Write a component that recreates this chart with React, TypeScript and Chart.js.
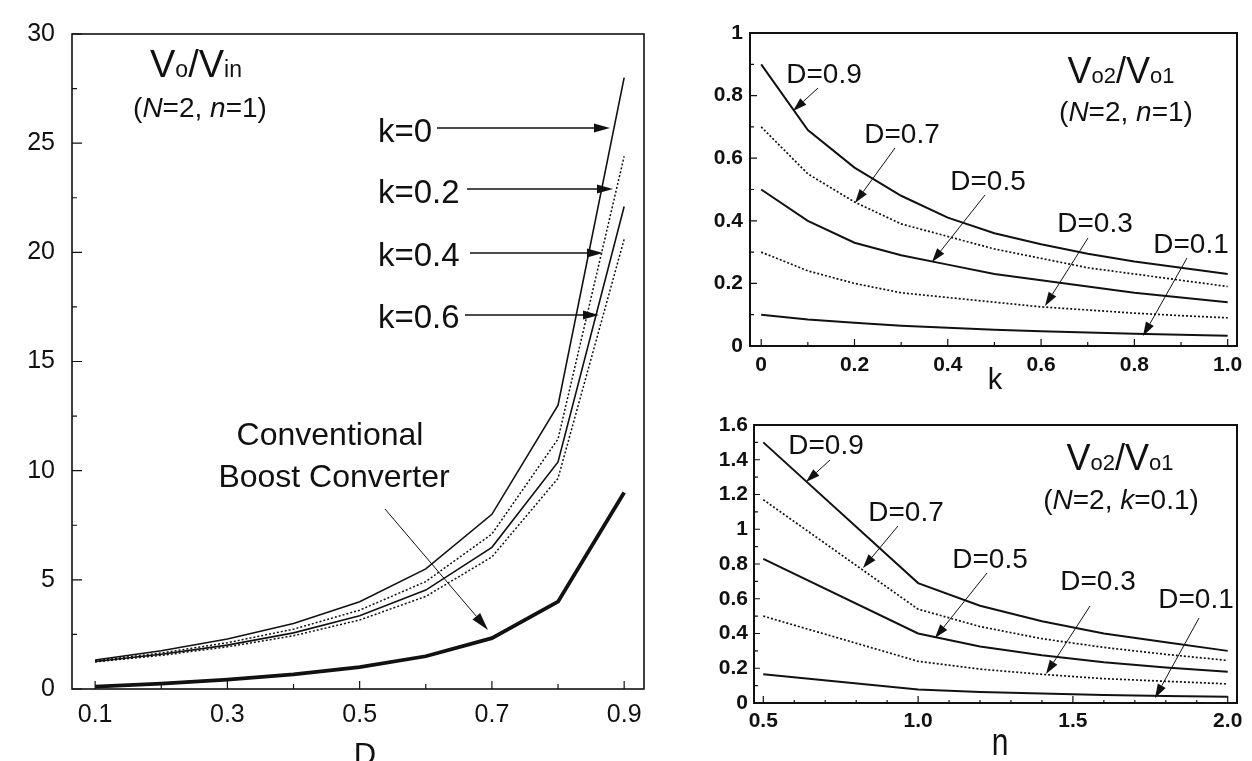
import React, { useEffect, useRef } from "react";
import { Chart, registerables } from "chart.js";

Chart.register(...registerables);

const FONT = '"Liberation Sans", Arial, Helvetica, sans-serif';
const INK = "#111111";

// ---------- Left panel: Vo/Vin versus D (N=2, n=1) ----------
const dutyD = [0.1, 0.2, 0.3, 0.4, 0.5, 0.6, 0.7, 0.8, 0.9];
const gainK00 = [1.33, 1.75, 2.29, 3.0, 4.0, 5.5, 8.0, 13.0, 28.0];
const gainK02 = [1.29, 1.65, 2.12, 2.74, 3.61, 4.92, 7.1, 11.45, 24.4];
const gainK04 = [1.26, 1.59, 2.01, 2.57, 3.35, 4.53, 6.49, 10.4, 22.1];
const gainK06 = [1.24, 1.54, 1.93, 2.44, 3.16, 4.24, 6.05, 9.65, 20.6];
const gainBoost = [0.11, 0.25, 0.43, 0.67, 1.0, 1.5, 2.33, 4.0, 9.0];
const leftXTicks = [0.1, 0.3, 0.5, 0.7, 0.9];
const leftXTickLabels = ["0.1", "0.3", "0.5", "0.7", "0.9"];
const leftYTicks = [0, 5, 10, 15, 20, 25, 30];
const leftYTickLabels = ["0", "5", "10", "15", "20", "25", "30"];

// ---------- Top-right panel: Vo2/Vo1 versus k (N=2, n=1) ----------
const kValues = [0, 0.1, 0.2, 0.3, 0.4, 0.5, 0.6, 0.7, 0.8, 0.9, 1.0];
const ratioKD09 = [0.9, 0.69, 0.57, 0.48, 0.41, 0.36, 0.325, 0.295, 0.27, 0.25, 0.23];
const ratioKD07 = [0.7, 0.55, 0.46, 0.39, 0.35, 0.31, 0.28, 0.25, 0.23, 0.21, 0.19];
const ratioKD05 = [0.5, 0.4, 0.33, 0.29, 0.26, 0.23, 0.21, 0.19, 0.17, 0.155, 0.14];
const ratioKD03 = [0.3, 0.24, 0.2, 0.17, 0.155, 0.14, 0.125, 0.115, 0.105, 0.097, 0.09];
const ratioKD01 = [0.1, 0.085, 0.074, 0.065, 0.058, 0.052, 0.047, 0.043, 0.039, 0.036, 0.033];
const topXTicks = [0, 0.2, 0.4, 0.6, 0.8, 1.0];
const topXTickLabels = ["0", "0.2", "0.4", "0.6", "0.8", "1.0"];
const topYTicks = [0, 0.2, 0.4, 0.6, 0.8, 1];
const topYTickLabels = ["0", "0.2", "0.4", "0.6", "0.8", "1"];

// ---------- Bottom-right panel: Vo2/Vo1 versus n (N=2, k=0.1) ----------
const nValues = [0.5, 1.0, 1.2, 1.4, 1.6, 1.8, 2.0];
const ratioND09 = [1.5, 0.69, 0.56, 0.47, 0.4, 0.35, 0.3];
const ratioND07 = [1.17, 0.54, 0.44, 0.37, 0.32, 0.28, 0.245];
const ratioND05 = [0.83, 0.4, 0.325, 0.275, 0.235, 0.205, 0.18];
const ratioND03 = [0.5, 0.24, 0.195, 0.165, 0.14, 0.125, 0.11];
const ratioND01 = [0.165, 0.078, 0.064, 0.054, 0.046, 0.04, 0.036];
const botXTicks = [0.5, 1.0, 1.5, 2.0];
const botXTickLabels = ["0.5", "1.0", "1.5", "2.0"];
const botYTicks = [0, 0.2, 0.4, 0.6, 0.8, 1.0, 1.2, 1.4, 1.6];
const botYTickLabels = ["0", "0.2", "0.4", "0.6", "0.8", "1", "1.2", "1.4", "1.6"];

type Seg = { t: string; size: number; italic?: boolean; bold?: boolean };
type TextItem = { segs: Seg[]; x: number; y: number; align?: "left" | "center"; sy?: number };
type Arrow = { x1: number; y1: number; x2: number; y2: number; w?: number; head?: number; hw?: number };
type Series = { xs: number[]; ys: number[]; width: number; dash?: number[] };
type AxisCfg = {
  min: number; max: number; ticks: number[]; labels: string[];
  minor: number[]; majorLen: number; minorLen: number;
  fontSize: number; bold?: boolean; pad: number;
};
type PanelCfg = {
  box: { x: number; y: number; w: number; h: number };
  area: { left: number; top: number; right: number; bottom: number };
  x: AxisCfg; y: AxisCfg; series: Series[]; frameWidth: number;
  texts: TextItem[]; arrows: Arrow[];
};

const segFont = (s: Seg) => `${s.italic ? "italic " : ""}${s.bold ? "bold " : ""}${s.size}px ${FONT}`;
const plain = (t: string, size: number): Seg[] => [{ t, size }];

function drawRich(ctx: CanvasRenderingContext2D, item: TextItem, ox: number, oy: number) {
  let total = 0;
  const widths = item.segs.map((s) => {
    ctx.font = segFont(s);
    const w = ctx.measureText(s.t).width;
    total += w;
    return w;
  });
  const startX = item.align === "left" ? item.x : item.x - total / 2;
  ctx.save();
  ctx.translate(startX - ox, item.y - oy);
  if (item.sy) ctx.scale(1, item.sy);
  ctx.fillStyle = INK;
  ctx.textBaseline = "alphabetic";
  ctx.textAlign = "left";
  let cx = 0;
  item.segs.forEach((s, i) => {
    ctx.font = segFont(s);
    ctx.fillText(s.t, cx, 0);
    cx += widths[i];
  });
  ctx.restore();
}

function drawArrow(ctx: CanvasRenderingContext2D, a: Arrow, ox: number, oy: number) {
  const x1 = a.x1 - ox, y1 = a.y1 - oy, x2 = a.x2 - ox, y2 = a.y2 - oy;
  const ang = Math.atan2(y2 - y1, x2 - x1);
  const L = a.head ?? 14, W = a.hw ?? 4.5;
  const c = Math.cos(ang), s = Math.sin(ang);
  ctx.save();
  ctx.strokeStyle = INK;
  ctx.fillStyle = INK;
  ctx.lineWidth = a.w ?? 1;
  ctx.setLineDash([]);
  ctx.beginPath();
  ctx.moveTo(x1, y1);
  ctx.lineTo(x2 - L * c, y2 - L * s);
  ctx.stroke();
  ctx.beginPath();
  ctx.moveTo(x2, y2);
  ctx.lineTo(x2 - L * c + W * s, y2 - L * s - W * c);
  ctx.lineTo(x2 - L * c - W * s, y2 - L * s + W * c);
  ctx.closePath();
  ctx.fill();
  ctx.restore();
}

function labelFor(ticks: number[], labels: string[], v: number) {
  const i = ticks.findIndex((t) => Math.abs(t - v) < 1e-6);
  return i >= 0 ? labels[i] : "";
}

function buildConfig(cfg: PanelCfg): any {
  const { box, area } = cfg;
  const framePlugin = {
    id: "frameAndNotes",
    afterDatasetsDraw(chart: any) {
      const { ctx, chartArea: a, scales } = chart;
      const xs = scales.x, ys = scales.y;
      ctx.save();
      ctx.strokeStyle = INK;
      ctx.setLineDash([]);
      ctx.lineWidth = cfg.frameWidth;
      ctx.strokeRect(a.left, a.top, a.right - a.left, a.bottom - a.top);
      ctx.lineWidth = 1.2;
      ctx.beginPath();
      const xTick = (v: number, len: number) => {
        const p = xs.getPixelForValue(v);
        ctx.moveTo(p, a.bottom);
        ctx.lineTo(p, a.bottom - len);
      };
      const yTick = (v: number, len: number) => {
        const p = ys.getPixelForValue(v);
        ctx.moveTo(a.left, p);
        ctx.lineTo(a.left + len, p);
      };
      cfg.x.minor.forEach((v) => xTick(v, cfg.x.minorLen));
      cfg.x.ticks.forEach((v) => xTick(v, cfg.x.majorLen));
      cfg.y.minor.forEach((v) => yTick(v, cfg.y.minorLen));
      cfg.y.ticks.forEach((v) => yTick(v, cfg.y.majorLen));
      ctx.stroke();
      ctx.restore();
      cfg.arrows.forEach((ar) => drawArrow(ctx, ar, box.x, box.y));
      cfg.texts.forEach((t) => drawRich(ctx, t, box.x, box.y));
    },
  };

  const axis = (ax: AxisCfg, isX: boolean) => ({
    type: "linear",
    min: ax.min,
    max: ax.max,
    grid: { display: false, drawTicks: false },
    border: { display: false },
    ticks: {
      autoSkip: false,
      maxRotation: 0,
      padding: ax.pad,
      color: INK,
      font: { family: FONT, size: ax.fontSize, weight: ax.bold ? "bold" : "normal" },
      callback: (v: number) => labelFor(ax.ticks, ax.labels, v),
    },
    afterBuildTicks: (scale: any) => {
      scale.ticks = ax.ticks.map((v) => ({ value: v }));
    },
    afterFit: (scale: any) => {
      if (isX) scale.height = box.y + box.h - area.bottom;
      else scale.width = area.left - box.x;
    },
  });

  return {
    type: "line",
    data: {
      datasets: cfg.series.map((s) => ({
        data: s.xs.map((x, i) => ({ x, y: s.ys[i] })),
        borderColor: INK,
        borderWidth: s.width,
        borderDash: s.dash ?? [],
        pointRadius: 0,
        fill: false,
        tension: 0,
      })),
    },
    options: {
      responsive: false,
      animation: false,
      devicePixelRatio: 1,
      layout: {
        padding: { left: 0, top: area.top - box.y, right: box.x + box.w - area.right, bottom: 0 },
      },
      plugins: { legend: { display: false }, tooltip: { enabled: false } },
      scales: { x: axis(cfg.x, true), y: axis(cfg.y, false) },
    },
    plugins: [framePlugin],
  };
}

const dotted = [2, 2];

const leftPanel: PanelCfg = {
  box: { x: 0, y: 0, w: 672, h: 761 },
  area: { left: 72, top: 34, right: 644, bottom: 689 },
  x: {
    min: 0.065, max: 0.93, ticks: leftXTicks, labels: leftXTickLabels,
    minor: [0.2, 0.4, 0.6, 0.8], majorLen: 8, minorLen: 5, fontSize: 25, pad: 11,
  },
  y: {
    min: 0, max: 30, ticks: leftYTicks, labels: leftYTickLabels,
    minor: [2.5, 7.5, 12.5, 17.5, 22.5, 27.5], majorLen: 10, minorLen: 5, fontSize: 25, pad: 17,
  },
  frameWidth: 1.6,
  series: [
    { xs: dutyD, ys: gainK00, width: 1.6 },
    { xs: dutyD, ys: gainK02, width: 1.5, dash: dotted },
    { xs: dutyD, ys: gainK04, width: 1.6 },
    { xs: dutyD, ys: gainK06, width: 1.5, dash: dotted },
    { xs: dutyD, ys: gainBoost, width: 3.8 },
  ],
  texts: [
    { segs: [{ t: "V", size: 38 }, { t: "o", size: 23 }, { t: "/", size: 38 }, { t: "V", size: 38 }, { t: "in", size: 23 }], x: 196, y: 77 },
    { segs: [{ t: "(", size: 28 }, { t: "N", size: 28, italic: true }, { t: "=2, ", size: 28 }, { t: "n", size: 28, italic: true }, { t: "=1)", size: 28 }], x: 200, y: 117 },
    { segs: plain("k=0", 33), x: 378, y: 142, align: "left" },
    { segs: plain("k=0.2", 33), x: 378, y: 203, align: "left" },
    { segs: plain("k=0.4", 33), x: 378, y: 266, align: "left" },
    { segs: plain("k=0.6", 33), x: 378, y: 328, align: "left" },
    { segs: plain("Conventional", 32), x: 330, y: 445 },
    { segs: plain("Boost Converter", 32), x: 334, y: 487 },
    { segs: plain("D", 31), x: 365, y: 765 },
  ],
  arrows: [
    { x1: 437, y1: 128, x2: 610, y2: 128, w: 1.5, head: 16, hw: 4.5 },
    { x1: 467, y1: 189, x2: 613, y2: 189, w: 1.5, head: 16, hw: 4.5 },
    { x1: 470, y1: 253, x2: 603, y2: 253, w: 1.5, head: 16, hw: 4.5 },
    { x1: 465, y1: 315, x2: 599, y2: 315, w: 1.5, head: 16, hw: 4.5 },
    { x1: 385, y1: 509, x2: 488, y2: 630, w: 1, head: 18, hw: 5 },
  ],
};

const topPanel: PanelCfg = {
  box: { x: 672, y: 0, w: 580, h: 400 },
  area: { left: 750, top: 33, right: 1237, bottom: 346 },
  x: {
    min: -0.024, max: 1.02, ticks: topXTicks, labels: topXTickLabels,
    minor: [0.1, 0.3, 0.5, 0.7, 0.9], majorLen: 7, minorLen: 4, fontSize: 21, bold: true, pad: 7,
  },
  y: {
    min: 0, max: 1, ticks: topYTicks, labels: topYTickLabels,
    minor: [0.1, 0.3, 0.5, 0.7, 0.9], majorLen: 7, minorLen: 4, fontSize: 21, bold: true, pad: 7,
  },
  frameWidth: 2,
  series: [
    { xs: kValues, ys: ratioKD09, width: 2 },
    { xs: kValues, ys: ratioKD07, width: 1.7, dash: dotted },
    { xs: kValues, ys: ratioKD05, width: 2 },
    { xs: kValues, ys: ratioKD03, width: 1.7, dash: dotted },
    { xs: kValues, ys: ratioKD01, width: 2 },
  ],
  texts: [
    { segs: [{ t: "V", size: 36 }, { t: "o2", size: 22 }, { t: "/", size: 36 }, { t: "V", size: 36 }, { t: "o1", size: 22 }], x: 1121, y: 83 },
    { segs: [{ t: "(", size: 28 }, { t: "N", size: 28, italic: true }, { t: "=2, ", size: 28 }, { t: "n", size: 28, italic: true }, { t: "=1)", size: 28 }], x: 1126, y: 121 },
    { segs: plain("D=0.9", 28), x: 824, y: 83 },
    { segs: plain("D=0.7", 28), x: 902, y: 143 },
    { segs: plain("D=0.5", 28), x: 988, y: 190 },
    { segs: plain("D=0.3", 28), x: 1095, y: 232 },
    { segs: plain("D=0.1", 28), x: 1191, y: 253 },
    { segs: plain("k", 29), x: 995, y: 389 },
  ],
  arrows: [
    { x1: 818, y1: 88, x2: 793, y2: 111 },
    { x1: 895, y1: 148, x2: 855, y2: 203 },
    { x1: 985, y1: 195, x2: 932, y2: 262 },
    { x1: 1088, y1: 238, x2: 1045, y2: 306 },
    { x1: 1187, y1: 258, x2: 1143, y2: 336 },
  ],
};

const bottomPanel: PanelCfg = {
  box: { x: 672, y: 400, w: 580, h: 361 },
  area: { left: 754, top: 425, right: 1237, bottom: 703 },
  x: {
    min: 0.47, max: 2.03, ticks: botXTicks, labels: botXTickLabels,
    minor: [0.6, 0.7, 0.8, 0.9, 1.1, 1.2, 1.3, 1.4, 1.6, 1.7, 1.8, 1.9], majorLen: 7, minorLen: 3, fontSize: 21, bold: true, pad: 6,
  },
  y: {
    min: 0, max: 1.6, ticks: botYTicks, labels: botYTickLabels,
    minor: [0.1, 0.3, 0.5, 0.7, 0.9, 1.1, 1.3, 1.5], majorLen: 6, minorLen: 4, fontSize: 21, bold: true, pad: 6,
  },
  frameWidth: 2,
  series: [
    { xs: nValues, ys: ratioND09, width: 2 },
    { xs: nValues, ys: ratioND07, width: 1.7, dash: dotted },
    { xs: nValues, ys: ratioND05, width: 2 },
    { xs: nValues, ys: ratioND03, width: 1.7, dash: dotted },
    { xs: nValues, ys: ratioND01, width: 2 },
  ],
  texts: [
    { segs: [{ t: "V", size: 36 }, { t: "o2", size: 22 }, { t: "/", size: 36 }, { t: "V", size: 36 }, { t: "o1", size: 22 }], x: 1120, y: 470 },
    { segs: [{ t: "(", size: 28 }, { t: "N", size: 28, italic: true }, { t: "=2, ", size: 28 }, { t: "k", size: 28, italic: true }, { t: "=0.1)", size: 28 }], x: 1121, y: 509 },
    { segs: plain("D=0.9", 28), x: 826, y: 454 },
    { segs: plain("D=0.7", 28), x: 906, y: 521 },
    { segs: plain("D=0.5", 28), x: 990, y: 568 },
    { segs: plain("D=0.3", 28), x: 1098, y: 590 },
    { segs: plain("D=0.1", 28), x: 1196, y: 608 },
    { segs: plain("n", 30), x: 1000, y: 755, sy: 1.3 },
  ],
  arrows: [
    { x1: 830, y1: 460, x2: 806, y2: 482 },
    { x1: 898, y1: 526, x2: 863, y2: 568 },
    { x1: 987, y1: 573, x2: 935, y2: 638 },
    { x1: 1090, y1: 606, x2: 1046, y2: 674 },
    { x1: 1199, y1: 618, x2: 1155, y2: 698 },
  ],
};

function Panel({ cfg }: { cfg: PanelCfg }) {
  const ref = useRef<HTMLCanvasElement | null>(null);
  useEffect(() => {
    if (!ref.current) return;
    const chart = new Chart(ref.current, buildConfig(cfg));
    return () => chart.destroy();
  }, [cfg]);
  return (
    <canvas
      ref={ref}
      width={cfg.box.w}
      height={cfg.box.h}
      style={{ position: "absolute", left: cfg.box.x, top: cfg.box.y, width: cfg.box.w, height: cfg.box.h }}
    />
  );
}

export default function App() {
  return (
    <div
      style={{
        position: "absolute",
        left: 0,
        top: 0,
        width: 1252,
        height: 761,
        overflow: "hidden",
        background: "#ffffff",
      }}
    >
      <Panel cfg={leftPanel} />
      <Panel cfg={topPanel} />
      <Panel cfg={bottomPanel} />
    </div>
  );
}
